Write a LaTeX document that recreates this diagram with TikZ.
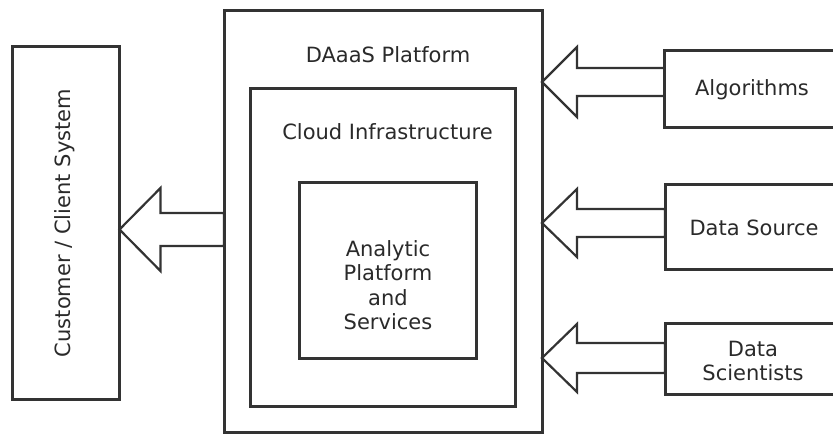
\documentclass[tikz,border=0pt]{standalone}
\usepackage{fontspec}
\setmainfont{DejaVu Sans}
\usetikzlibrary{calc}
\definecolor{ln}{HTML}{333333}
\definecolor{tx}{HTML}{2A2A2A}
\tikzset{
  box/.style={draw=ln, line width=3pt, rectangle, outer sep=0pt, inner sep=0pt},
  lbl/.style={text=tx, font=\fontsize{21}{24.5}\selectfont, align=center, inner sep=0pt},
  blk/.style={draw=ln, line width=2.2pt, fill=white, line join=miter}
}
\newcommand\blockarrow[5]{%
  \draw[blk] (#1) -- ($(#1)+(#3,#4)$) -- ($(#1)+(#3,#5)$) -- ($(#2 |- #1)+(0,#5)$)
    -- ($(#2 |- #1)+(0,-#5)$) -- ($(#1)+(#3,-#5)$) -- ($(#1)+(#3,-#4)$) -- cycle;}
\begin{document}
\begin{tikzpicture}[x=1pt,y=-1pt]
\useasboundingbox (0,0) rectangle (833,435);
\clip (0,0) rectangle (833,435);
\fill[white] (0,0) rectangle (833,435);
% boxes
\node[box, minimum width=107pt, minimum height=353pt] (cust) at (66,223) {};
\node[box, minimum width=318pt, minimum height=422pt] (outer) at (383,222) {};
\node[box, minimum width=265pt, minimum height=318pt] (cloud) at (383.2,248) {};
\node[box, minimum width=176.7pt, minimum height=175.6pt] (ana) at (388.3,270.5) {};
\node[box, minimum width=200pt, minimum height=77pt] (algo) at (764.3,88.7) {};
\node[box, minimum width=200pt, minimum height=85pt] (dsrc) at (765,227) {};
\node[box, minimum width=200pt, minimum height=71pt] (dsci) at (765,358.7) {};
% labels
\node[lbl, rotate=90] (custt) at (65,223) {Customer / Client System};
\node[lbl] (outert) at (388,55) {DAaaS Platform};
\node[lbl] (cloudt) at (387.5,132) {Cloud Infrastructure};
\node[lbl] (anat) at (388,285) {Analytic\\Platform\\and\\Services};
\node[lbl] (algot) at (752,90) {Algorithms};
\node[lbl] (dsrct) at (754,228) {Data Source};
\node[lbl] (dscit) at (753,361) {Data\\Scientists};
% arrow anchor heights
\coordinate (yc) at (0,229.5);
\coordinate (ya) at (0,82);
\coordinate (yd) at (0,223);
\coordinate (ys) at (0,358);
\coordinate (tc) at (cust.east |- yc);
\coordinate (ta) at (outer.east |- ya);
\coordinate (td) at (outer.east |- yd);
\coordinate (ts) at (outer.east |- ys);
% block arrows
\blockarrow{tc}{outer.west}{41}{41.5}{16.5}
\blockarrow{ta}{algo.west}{35}{35}{14}
\blockarrow{td}{dsrc.west}{35}{34}{14}
\blockarrow{ts}{dsci.west}{35}{34}{15}
\end{tikzpicture}
\end{document}
